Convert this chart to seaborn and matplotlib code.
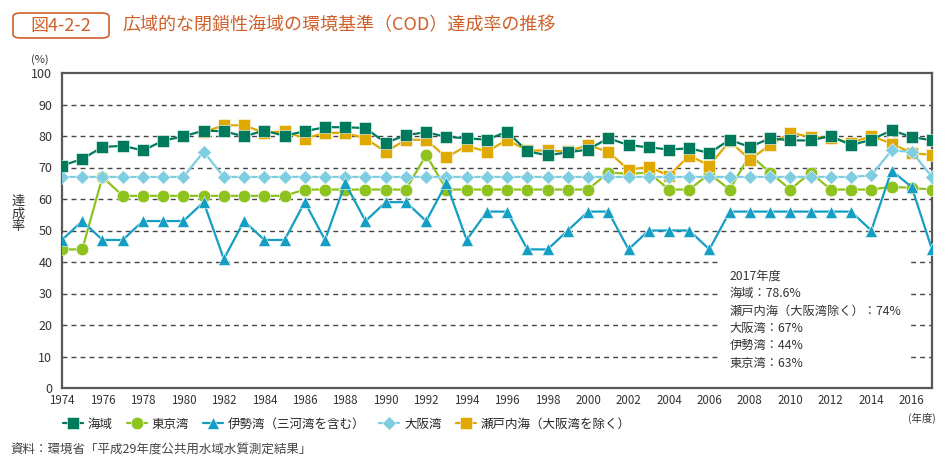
import matplotlib
matplotlib.use("Agg")
import matplotlib.pyplot as plt
import seaborn as sns
import pandas as pd
from matplotlib.patches import FancyBboxPatch, Rectangle

# 年度
years = list(range(1974, 2018))
years_seto = list(range(1981, 2018))

# 達成率 (%)
kaiiki = [70.6, 72.7, 76.5, 76.9, 75.4, 78.5, 79.9, 81.7, 81.5, 79.9,
          81.7, 80.1, 81.5, 82.8, 82.8, 82.5, 77.8, 80.3, 81.2, 79.7,
          79.3, 78.8, 81.4, 75.1, 73.9, 74.8, 75.7, 79.3, 77.1, 76.4,
          75.7, 76.1, 74.6, 78.8, 76.5, 79.3, 78.6, 78.6, 80.0, 77.1,
          78.8, 81.8, 79.7, 78.6]
tokyo = [44, 44, 67, 61, 61, 61, 61, 61, 61, 61,
         61, 61, 63, 63, 63, 63, 63, 63, 74, 63,
         63, 63, 63, 63, 63, 63, 63, 68.4, 68, 68.4,
         63, 63, 68, 63, 74, 68.4, 63, 68.4, 63, 63,
         63, 63.9, 63.5, 63]
ise = [47, 53, 47, 47, 53, 53, 53, 59, 41, 53,
       47, 47, 59, 47, 65, 53, 59, 59, 53, 65,
       47, 56, 56, 44, 44, 50, 56, 56, 44, 50,
       50, 50, 44, 56, 56, 56, 56, 56, 56, 56,
       50, 69, 63.8, 44]
osaka = [67, 67, 67, 67, 67, 67, 67, 75, 67, 67,
         67, 67, 67, 67, 67, 67, 67, 67, 67, 67,
         67, 67, 67, 67, 67, 67, 67, 67, 67, 67,
         67, 67, 67, 67, 67, 67, 67, 67, 67, 67,
         67.5, 75.4, 75, 67]
seto = [81.2, 83.4, 83.4, 81, 81.5, 79.2, 81, 81, 79.2, 75,
        78.8, 78.8, 73.2, 76.9, 75, 78.8, 75.4, 75.4, 75.1, 77.1,
        75, 69.3, 70.2, 67.4, 73.8, 70.6, 78.4, 72.5, 77.2, 81,
        79.7, 79.4, 77.8, 80, 77.6, 74.6, 74]

labels = ["海域", "東京湾", "伊勢湾（三河湾を含む）", "大阪湾", "瀬戸内海（大阪湾を除く）"]
note_lines = ["2017年度", "海域：78.6%", "瀬戸内海（大阪湾除く）：74%",
              "大阪湾：67%", "伊勢湾：44%", "東京湾：63%"]

sns.set_style("white")
plt.rcParams["font.family"] = ["Noto Sans CJK JP", "DejaVu Sans"]

fig = plt.figure(figsize=(9.48, 4.66), dpi=100)
ax = fig.add_axes([62 / 948, 1 - 388 / 466, 870 / 948, 315 / 466])

# 系列ごとの設定: (x, y, label, color, marker, size, zorder)
series = [
    (years, tokyo, labels[1], "#8dc21f", "o", 9, 3),
    (years_seto, seto, labels[4], "#e0a900", "s", 8.5, 4),
    (years, osaka, labels[3], "#7fcde0", "D", 7, 5),
    (years, ise, labels[2], "#149ec4", "^", 8.5, 6),
    (years, kaiiki, labels[0], "#007a5c", "s", 8.5, 7),
]
for x, y, lab, col, mk, ms, z in series:
    df = pd.DataFrame({"year": x, "rate": y})
    sns.lineplot(data=df, x="year", y="rate", ax=ax, color=col, marker=mk,
                 markersize=ms, markeredgecolor="white", markeredgewidth=0.4,
                 linewidth=1.6, label=lab, zorder=z)

ax.set_xlim(1974, 2017)
ax.set_ylim(0, 100)
ax.set_xticks(years)
ax.set_xticklabels([str(y) if y % 2 == 0 else "" for y in years], fontsize=8.3, color="#333333")
ax.set_yticks(range(0, 101, 10))
ax.set_yticklabels([str(v) for v in range(0, 101, 10)], fontsize=9, color="#333333")
ax.tick_params(axis="x", direction="in", length=5, width=1, color="#595757", pad=4.5)
ax.tick_params(axis="y", length=0, pad=7)
ax.set_xlabel("")
ax.set_ylabel("")

for v in range(10, 100, 10):
    ax.axhline(v, color="#444444", linewidth=1, linestyle=(0, (3.5, 3)), zorder=1)
for s in ax.spines.values():
    s.set_color("#595757")
    s.set_linewidth(1.6)

# 注記
ax.add_patch(Rectangle((2006.45, 2.5), 9.5, 39.5, facecolor="white", edgecolor="none", zorder=2))
for i, line in enumerate(note_lines):
    ax.text(2007.0, 35.6 - i * 5.55, line, fontsize=8.8, color="#333333", va="center", ha="left", zorder=8)

ax.get_legend().remove()
handles, labs = ax.get_legend_handles_labels()
order = [labs.index(l) for l in labels]
fig.legend([handles[i] for i in order], [labs[i] for i in order], loc="center left",
           bbox_to_anchor=(58 / 948, 1 - 424 / 466), ncol=5, frameon=False, fontsize=9,
           handlelength=1.6, handletextpad=0.4, columnspacing=1.1, borderaxespad=0)

# 単位・軸ラベル
fig.text(40 / 948, 1 - 60 / 466, "(%)", fontsize=8, color="#333333", ha="center", va="center")
fig.text(18 / 948, 1 - 214 / 466, "達\n成\n率", fontsize=9.5, color="#333333", ha="center", va="center", linespacing=0.95)
fig.text(922 / 948, 1 - 413 / 466, "(年度)", fontsize=7.5, color="#333333", ha="center", va="top")

# タイトル
fig.patches.append(FancyBboxPatch((13 / 948, 1 - 38 / 466), 96 / 948, 25 / 466,
                                  boxstyle="round,pad=0,rounding_size=0.008", transform=fig.transFigure,
                                  facecolor="white", edgecolor="#d0602a", linewidth=1.2))
fig.text(61 / 948, 1 - 25.5 / 466, "図4-2-2", fontsize=13, color="#d0602a", ha="center", va="center")
fig.text(122 / 948, 1 - 25.5 / 466, "広域的な閉鎖性海域の環境基準（COD）達成率の推移", fontsize=13,
         color="#d0602a", ha="left", va="center")

fig.text(10 / 948, 1 - 450 / 466, "資料：環境省「平成29年度公共用水域水質測定結果」", fontsize=9,
         color="#444444", ha="left", va="center")

fig.savefig("out.png", dpi=100)
